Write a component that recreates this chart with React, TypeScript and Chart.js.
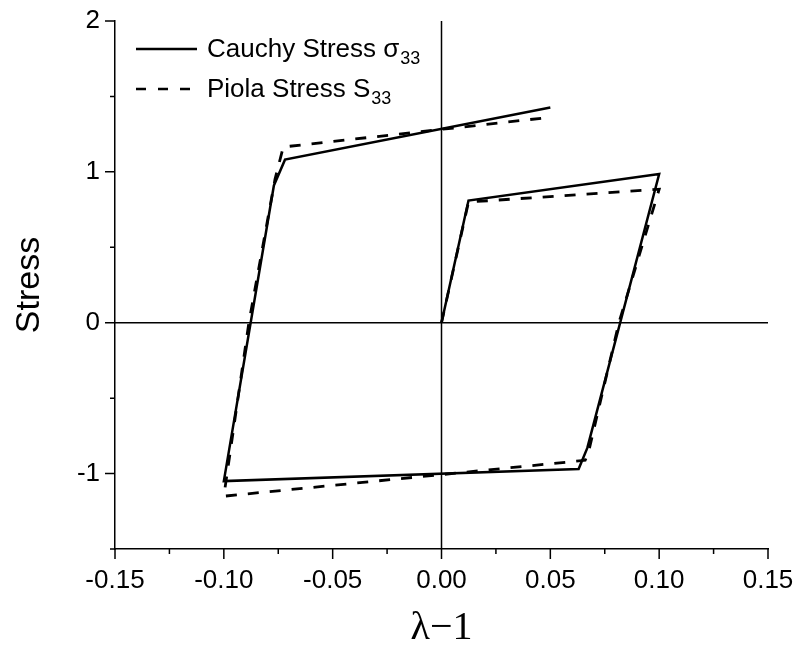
import React, { useEffect, useRef } from 'react';
import { Chart, registerables } from 'chart.js';
Chart.register(...registerables);

const cauchyX = [0, 0.0124, 0.1, 0.067, 0.063, -0.1, -0.077, -0.0719, 0.05];
const cauchyY = [0, 0.81, 0.985, -0.83, -0.97, -1.05, 0.91, 1.081, 1.427];
const piolaX = [0, 0.0124, 0.1, 0.0815, 0.0675, 0.066, -0.1, -0.0885, -0.0765, -0.0727, 0.05];
const piolaY = [0, 0.8, 0.885, 0, -0.86, -0.912, -1.15, 0, 0.95, 1.165, 1.362];

const xMajorTicks = [-0.15, -0.1, -0.05, 0, 0.05, 0.1, 0.15];
const xMinorTicks = [-0.125, -0.075, -0.025, 0.025, 0.075, 0.125];
const yMajorTicks = [-1, 0, 1, 2];
const yMinorTicks = [-1.5, -0.5, 0.5, 1.5];

const legendLabels = [
  { main: 'Cauchy Stress \u03c3', sub: '33', dash: [] as number[] },
  { main: 'Piola Stress S', sub: '33', dash: [10, 12] },
];

const SANS = '"Liberation Sans", Arial, Helvetica, sans-serif';
const SERIF = '"Liberation Serif", "Times New Roman", Times, serif';

const toPts = (xs: number[], ys: number[]) => xs.map((x, i) => ({ x, y: ys[i] }));

const decorPlugin = {
  id: 'decor',
  beforeDatasetsDraw(chart: any) {
    const { ctx, chartArea, scales } = chart;
    const xs = scales.x;
    const ys = scales.y;
    ctx.save();
    ctx.strokeStyle = '#000';
    ctx.lineWidth = 1.5;
    const x0 = xs.getPixelForValue(0);
    const y0 = ys.getPixelForValue(0);
    ctx.beginPath();
    ctx.moveTo(x0, chartArea.top);
    ctx.lineTo(x0, chartArea.bottom);
    ctx.moveTo(chartArea.left, y0);
    ctx.lineTo(chartArea.right, y0);
    ctx.stroke();
    ctx.restore();
  },
  afterDraw(chart: any) {
    const { ctx, chartArea, scales } = chart;
    const xs = scales.x;
    const ys = scales.y;
    ctx.save();
    ctx.strokeStyle = '#000';
    ctx.lineWidth = 1.5;
    ctx.beginPath();
    xMajorTicks.forEach((v) => {
      const p = xs.getPixelForValue(v);
      ctx.moveTo(p, chartArea.bottom);
      ctx.lineTo(p, chartArea.bottom + 10);
    });
    xMinorTicks.forEach((v) => {
      const p = xs.getPixelForValue(v);
      ctx.moveTo(p, chartArea.bottom);
      ctx.lineTo(p, chartArea.bottom + 5);
    });
    yMajorTicks.forEach((v) => {
      const p = ys.getPixelForValue(v);
      ctx.moveTo(chartArea.left, p);
      ctx.lineTo(chartArea.left - 10, p);
    });
    yMinorTicks.forEach((v) => {
      const p = ys.getPixelForValue(v);
      ctx.moveTo(chartArea.left, p);
      ctx.lineTo(chartArea.left - 5, p);
    });
    ctx.stroke();

    // legend
    const lx1 = 136;
    const lx2 = 197;
    const rows = [49, 89];
    legendLabels.forEach((lab, i) => {
      const yy = rows[i];
      ctx.beginPath();
      ctx.setLineDash(lab.dash);
      ctx.lineWidth = 2.5;
      ctx.moveTo(lx1, yy);
      ctx.lineTo(lx2, yy);
      ctx.stroke();
      ctx.setLineDash([]);
      ctx.fillStyle = '#000';
      ctx.textBaseline = 'middle';
      ctx.textAlign = 'left';
      ctx.font = `26px ${SANS}`;
      ctx.fillText(lab.main, 207, yy + 1);
      const w = ctx.measureText(lab.main).width;
      ctx.font = `18px ${SANS}`;
      ctx.fillText(lab.sub, 207 + w + 1, yy + 10);
    });
    ctx.restore();
  },
};

export default function App() {
  const ref = useRef<HTMLCanvasElement | null>(null);
  useEffect(() => {
    if (!ref.current) return;
    const chart = new Chart(ref.current, {
      type: 'line',
      data: {
        datasets: [
          {
            label: 'Cauchy Stress',
            data: toPts(cauchyX, cauchyY),
            borderColor: '#000',
            borderWidth: 2.5,
            pointRadius: 0,
            fill: false,
            tension: 0,
          },
          {
            label: 'Piola Stress',
            data: toPts(piolaX, piolaY),
            borderColor: '#000',
            borderWidth: 2.8,
            borderDash: [11, 11],
            pointRadius: 0,
            fill: false,
            tension: 0,
          },
        ],
      },
      options: {
        animation: false,
        responsive: false,
        parsing: false as any,
        layout: { padding: { top: 21, right: 27, left: 0, bottom: 0 } },
        plugins: {
          legend: { display: false },
          tooltip: { enabled: false },
        },
        scales: {
          x: {
            type: 'linear',
            min: -0.15,
            max: 0.15,
            grid: { display: false, drawTicks: false },
            border: { display: true, color: '#000', width: 1.5 },
            ticks: {
              stepSize: 0.05,
              padding: 16,
              color: '#000',
              font: { family: SANS, size: 26 },
              maxRotation: 0,
              callback: (v: any) => {
                const n = Math.abs(Number(v)) < 1e-9 ? 0 : Number(v);
                return n.toFixed(2);
              },
            },
            title: {
              display: true,
              text: '\u03bb\u22121',
              color: '#000',
              font: { family: SERIF, size: 40, lineHeight: 1 },
              padding: { top: 0, bottom: 7 },
            },
            afterFit: (s: any) => {
              s.height = 106;
              s.paddingLeft = 0;
              s.paddingRight = 0;
            },
          },
          y: {
            type: 'linear',
            min: -1.5,
            max: 2,
            grid: { display: false, drawTicks: false },
            border: { display: true, color: '#000', width: 1.5 },
            ticks: {
              stepSize: 0.5,
              padding: 15,
              color: '#000',
              font: { family: SANS, size: 26 },
              callback: (v: any) => {
                const n = Number(v);
                return Math.abs(n - Math.round(n)) < 1e-9 ? String(Math.round(n)) : '';
              },
            },
            title: {
              display: true,
              text: 'Stress',
              color: '#000',
              font: { family: SANS, size: 34, lineHeight: 1 },
              padding: { top: 13, bottom: 0 },
            },
            afterFit: (s: any) => {
              s.width = 115;
              s.paddingTop = 0;
              s.paddingBottom = 0;
            },
          },
        },
      },
      plugins: [decorPlugin],
    });
    return () => chart.destroy();
  }, []);
  return (
    <div style={{ position: 'absolute', left: 0, top: 0, width: 795, height: 655, background: '#fff' }}>
      <canvas ref={ref} width={795} height={655} />
    </div>
  );
}
